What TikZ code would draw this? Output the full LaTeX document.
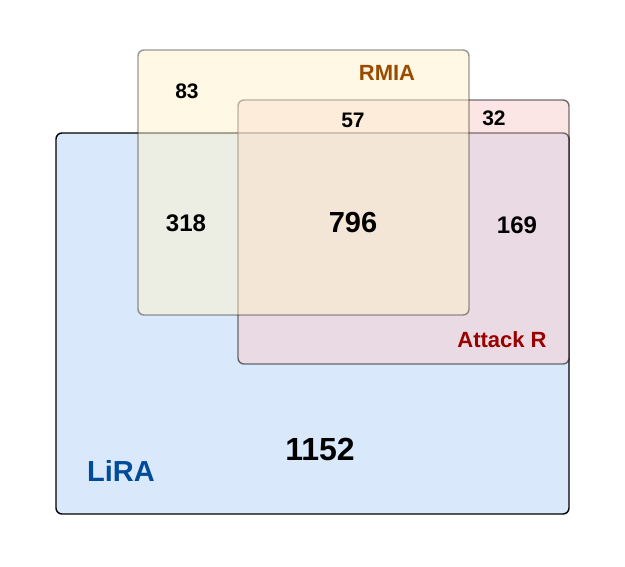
\documentclass[tikz,border=0pt]{standalone}
\usepackage{fontspec}
\setmainfont{Liberation Sans}
\definecolor{lirafill}{HTML}{DAE8FC}
\definecolor{rmiafill}{HTML}{FFF2CC}
\definecolor{attfill}{HTML}{F8CECC}
\definecolor{liratext}{HTML}{004C99}
\definecolor{rmiatext}{HTML}{994C00}
\definecolor{atttext}{HTML}{990000}
\begin{document}
\begin{tikzpicture}[x=1pt,y=-1pt,
  setbox/.style={line width=1.4pt, rounded corners=6pt},
  num/.style={font=\bfseries\fontsize{#1}{#1}\selectfont, text=black, inner sep=0pt},
  lbl/.style={font=\bfseries\fontsize{#1}{#1}\selectfont, inner sep=0pt}]
\useasboundingbox (0,0) rectangle (625,567);
% LiRA
\draw[setbox, fill=lirafill, draw=black] (56,133) rectangle (569,514);
% Attack R
\draw[setbox, fill=attfill, fill opacity=0.5, draw=black, draw opacity=0.55] (238,100) rectangle (569,364);
% RMIA
\draw[setbox, fill=rmiafill, fill opacity=0.5, draw=black, draw opacity=0.4] (138,50) rectangle (469,315);
% labels
\node[lbl=29, text=liratext] (lira) at (121,471) {LiRA};
\node[lbl=22, text=rmiatext] (rmia) at (387,73) {RMIA};
\node[lbl=22, text=atttext] (attr) at (502,340) {Attack R};
% numbers
\node[num=21] (n83) at (187,91) {83};
\node[num=21] (n57) at (353,120) {57};
\node[num=21] (n32) at (494,118) {32};
\node[num=24] (n318) at (186,223) {318};
\node[num=29] (n796) at (353,223) {796};
\node[num=24] (n169) at (517,225) {169};
\node[num=32] (n1152) at (320,449) {1152};
\end{tikzpicture}
\end{document}
